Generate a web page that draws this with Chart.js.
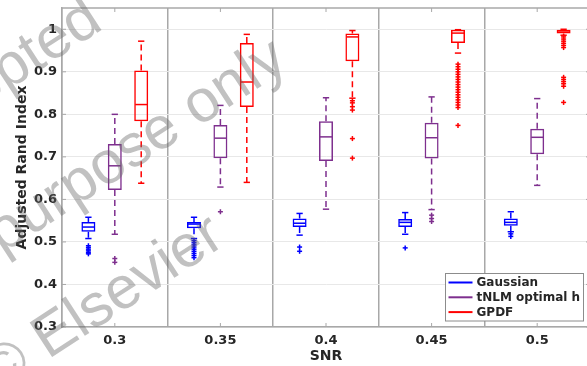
<!DOCTYPE html>
<html>
<head>
<meta charset="utf-8">
<script src="https://cdn.jsdelivr.net/npm/chart.js@4.4.0/dist/chart.umd.min.js"></script>
<style>
  html, body { margin: 0; padding: 0; background: #fff; overflow: hidden; }
  #wrap { width: 592px; height: 366px; }
</style>
</head>
<body>
<div id="wrap"><canvas id="snr-box-chart" width="592" height="366"></canvas></div>
<script>
/**
 * Adjusted Rand Index vs SNR, box plots for three methods
 */
const snrLabels = ['0.3', '0.35', '0.4', '0.45', '0.5'];
const yTicks = [0.3, 0.4, 0.5, 0.6, 0.7, 0.8, 0.9, 1];

/* ---- Gaussian ---- */
const gaussHigh = [0.558, 0.558, 0.567, 0.569, 0.571];
const gaussQ3 = [0.547, 0.547, 0.555, 0.554, 0.555];
const gaussMed = [0.535, 0.542, 0.544, 0.546, 0.546];
const gaussQ1 = [0.524, 0.532, 0.535, 0.535, 0.538];
const gaussLow = [0.508, 0.508, 0.516, 0.518, 0.524];
const gaussOut = [
  [0.491, 0.487, 0.483, 0.479, 0.475, 0.472],
  [0.503, 0.498, 0.493, 0.488, 0.483, 0.478, 0.473, 0.468, 0.463],
  [0.488, 0.478],
  [0.486],
  [0.519, 0.513]
];

/* ---- tNLM optimal h ---- */
const tnlmHigh = [0.800, 0.821, 0.839, 0.841, 0.837];
const tnlmQ3 = [0.730, 0.775, 0.784, 0.780, 0.766];
const tnlmMed = [0.679, 0.744, 0.747, 0.745, 0.746];
const tnlmQ1 = [0.622, 0.697, 0.690, 0.696, 0.706];
const tnlmLow = [0.518, 0.629, 0.577, 0.576, 0.633];
const tnlmOut = [
  [0.461, 0.452],
  [0.571],
  [],
  [0.563, 0.555, 0.548],
  []
];

/* ---- GPDF ---- */
const gpdfHigh = [0.972, 0.988, 0.997, 0.999, 1.000];
const gpdfQ3 = [0.903, 0.968, 0.990, 0.999, 0.999];
const gpdfMed = [0.823, 0.876, 0.982, 0.991, 0.996];
const gpdfQ1 = [0.784, 0.817, 0.925, 0.968, 0.990];
const gpdfLow = [0.638, 0.640, 0.838, 0.944, 0.986];
const gpdfOut = [
  [],
  [],
  [0.832, 0.827, 0.818, 0.810, 0.743, 0.697],
  [0.918, 0.912, 0.906, 0.900, 0.894, 0.888, 0.882, 0.876, 0.870, 0.864, 0.858,
   0.852, 0.846, 0.840, 0.834, 0.828, 0.822, 0.816, 0.774],
  [0.982, 0.977, 0.972, 0.967, 0.962, 0.957, 0.887, 0.882, 0.877, 0.872, 0.866, 0.828]
];

const series = [
  { label: 'Gaussian', color: '#0000ff', high: gaussHigh, q3: gaussQ3, med: gaussMed, q1: gaussQ1, low: gaussLow, out: gaussOut },
  { label: 'tNLM optimal h', color: '#7e2f8e', high: tnlmHigh, q3: tnlmQ3, med: tnlmMed, q1: tnlmQ1, low: tnlmLow, out: tnlmOut },
  { label: 'GPDF', color: '#ff0000', high: gpdfHigh, q3: gpdfQ3, med: gpdfMed, q1: gpdfQ1, low: gpdfLow, out: gpdfOut }
];

const frameColor = '#a8a8a8';
const textColor = '#262626';
const fontFamily = '"DejaVu Sans", sans-serif';

const seg = (ctx, x1, y1, x2, y2) => {
  ctx.beginPath();
  ctx.moveTo(x1, y1);
  ctx.lineTo(x2, y2);
  ctx.stroke();
};

/* medians, dashed whiskers, caps and '+' outliers on top of the box bars */
const boxParts = {
  id: 'boxParts',
  afterDatasetsDraw(chart) {
    const { ctx } = chart;
    const y = chart.scales.y;
    series.forEach((s, di) => {
      chart.getDatasetMeta(di).data.forEach((bar, i) => {
        const x = bar.x;
        const half = bar.width / 2;
        const cap = half * 0.45;
        const py = (v) => y.getPixelForValue(v);
        ctx.save();
        ctx.strokeStyle = s.color;
        ctx.lineWidth = 1.5;
        seg(ctx, x - half + 1, py(s.med[i]), x + half - 1, py(s.med[i]));
        ctx.setLineDash([6, 4]);
        seg(ctx, x, py(s.q3[i]), x, py(s.high[i]));
        seg(ctx, x, py(s.q1[i]), x, py(s.low[i]));
        ctx.setLineDash([]);
        seg(ctx, x - cap, py(s.high[i]), x + cap, py(s.high[i]));
        seg(ctx, x - cap, py(s.low[i]), x + cap, py(s.low[i]));
        s.out[i].forEach((v) => {
          const oy = py(v);
          seg(ctx, x - 2.5, oy, x + 2.5, oy);
          seg(ctx, x, oy - 2.5, x, oy + 2.5);
        });
        ctx.restore();
      });
    });
  }
};

/* top/right box edges and inward tick marks */
const frame = {
  id: 'frame',
  afterDatasetsDraw(chart) {
    const { ctx, chartArea: a } = chart;
    const x = chart.scales.x;
    const y = chart.scales.y;
    ctx.save();
    ctx.strokeStyle = frameColor;
    ctx.lineWidth = 1.5;
    seg(ctx, a.left, a.top, a.right, a.top);
    seg(ctx, a.right, a.top, a.right, a.bottom);
    ctx.lineWidth = 1;
    snrLabels.forEach((_, i) => {
      const px = x.getPixelForTick(i);
      seg(ctx, px, a.top, px, a.top + 4);
      seg(ctx, px, a.bottom, px, a.bottom - 4);
    });
    yTicks.forEach((v) => {
      const py = y.getPixelForValue(v);
      seg(ctx, a.left, py, a.left + 4, py);
      seg(ctx, a.right, py, a.right - 4, py);
    });
    ctx.restore();
  }
};

/* legend box in the lower right corner */
const cornerLegend = {
  id: 'cornerLegend',
  afterDatasetsDraw(chart) {
    const { ctx } = chart;
    const bx = 445.5, by = 273.5, bw = 138, bh = 47.5;
    ctx.save();
    ctx.fillStyle = '#fff';
    ctx.fillRect(bx, by, bw, bh);
    ctx.strokeStyle = '#8c8c8c';
    ctx.lineWidth = 1;
    ctx.strokeRect(bx, by, bw, bh);
    ctx.font = 'bold 12px ' + fontFamily;
    ctx.textBaseline = 'middle';
    ctx.textAlign = 'left';
    series.forEach((s, i) => {
      const ry = by + 9 + i * 14.8;
      ctx.strokeStyle = s.color;
      ctx.lineWidth = 2;
      seg(ctx, bx + 3, ry, bx + 27, ry);
      ctx.fillStyle = textColor;
      ctx.fillText(s.label, bx + 31, ry + 0.5);
    });
    ctx.restore();
  }
};

/* diagonal grey stamp text over the whole figure */
const stamp = {
  id: 'stamp',
  afterDraw(chart) {
    const { ctx } = chart;
    const lines = [
      { text: 'Accepted', x: -105, y: 164 },
      { text: 'personal purpose only', x: -205, y: 389 },
      { text: '\u00a9 Elsevier', x: -3, y: 393 }
    ];
    ctx.save();
    ctx.font = '60px "Liberation Sans", sans-serif';
    ctx.fillStyle = 'rgba(100, 100, 100, 0.4)';
    ctx.textBaseline = 'alphabetic';
    lines.forEach((l) => {
      ctx.save();
      ctx.translate(l.x, l.y);
      ctx.rotate(-33 * Math.PI / 180);
      ctx.fillText(l.text, 0, 0);
      ctx.restore();
    });
    ctx.restore();
  }
};

new Chart(document.getElementById('snr-box-chart'), {
  type: 'bar',
  data: {
    labels: snrLabels,
    datasets: series.map((s) => ({
      label: s.label,
      data: s.q1.map((v, i) => [v, s.q3[i]]),
      backgroundColor: 'rgba(0,0,0,0)',
      borderColor: s.color,
      borderWidth: 1.5,
      borderSkipped: false,
      categoryPercentage: 0.75,
      barPercentage: 0.53
    }))
  },
  options: {
    responsive: false,
    animation: false,
    layout: { padding: { top: 8, right: 2, left: 0, bottom: 0 } },
    plugins: { legend: { display: false }, tooltip: { enabled: false } },
    scales: {
      x: {
        offset: true,
        grid: { color: frameColor, lineWidth: 1.5, drawTicks: false, offset: true },
        border: { color: frameColor, width: 1.5 },
        ticks: { color: textColor, padding: 6, font: { family: fontFamily, size: 13, weight: 'bold' } },
        title: {
          display: true,
          text: 'SNR',
          color: textColor,
          padding: { top: 0, bottom: 1 },
          font: { family: fontFamily, size: 14, weight: 'bold' }
        },
        afterFit: (scale) => { scale.height = 39; scale.paddingLeft = 0; scale.paddingRight = 0; }
      },
      y: {
        min: 0.3,
        max: 1.05,
        afterBuildTicks: (scale) => { scale.ticks = yTicks.map((v) => ({ value: v })); },
        grid: { color: '#e8e8e8', lineWidth: 1, drawTicks: false },
        border: { color: frameColor, width: 1.5 },
        ticks: {
          color: textColor,
          padding: 5,
          font: { family: fontFamily, size: 13, weight: 'bold' },
          callback: (v) => String(+Number(v).toFixed(2))
        },
        title: {
          display: true,
          text: 'Adjusted Rand Index',
          color: textColor,
          padding: { top: 13.5, bottom: 0 },
          font: { family: fontFamily, size: 14, weight: 'bold' }
        },
        afterFit: (scale) => { scale.width = 62; scale.paddingTop = 0; scale.paddingBottom = 0; }
      }
    }
  },
  plugins: [boxParts, frame, cornerLegend, stamp]
});
</script>
</body>
</html>
